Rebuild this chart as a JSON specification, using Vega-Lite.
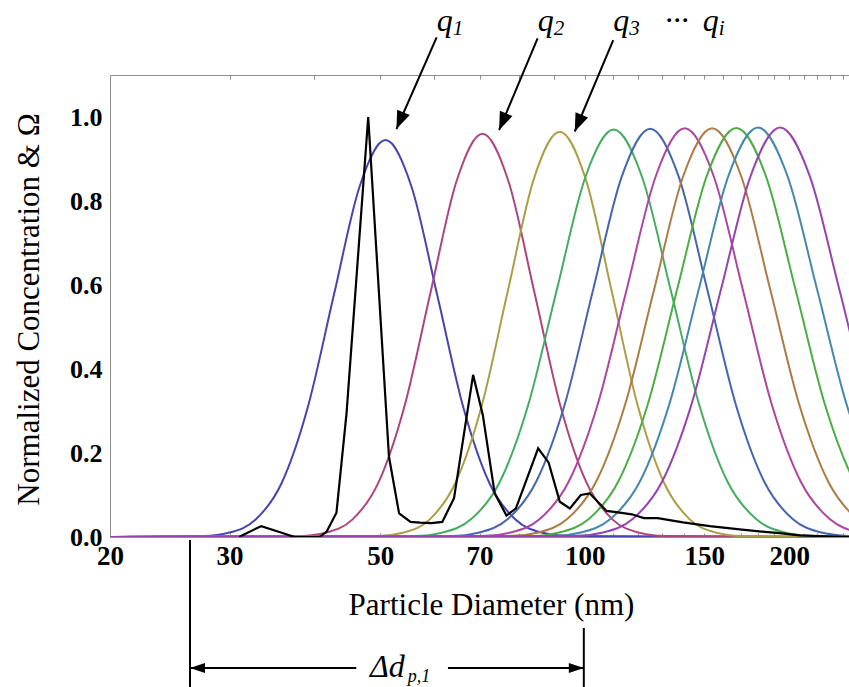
{
  "$schema": "https://vega.github.io/schema/vega-lite/v6.json",
  "width": 739,
  "height": 462,
  "autosize": "none",
  "padding": {"left": 110, "top": 75, "right": 0, "bottom": 150},
  "background": "white",
  "config": {"view": {"stroke": null}, "font": "Liberation Serif"},
  "datasets": {
    "curves": [
      {"c":"q01","d":20,"v":0},{"c":"q01","d":27.47,"v":0.0021},{"c":"q01","d":30.0,"v":0.0105},{"c":"q01","d":32.77,"v":0.0415},{"c":"q01","d":35.78,"v":0.128},{"c":"q01","d":39.08,"v":0.307},{"c":"q01","d":42.68,"v":0.573},{"c":"q01","d":46.61,"v":0.834},{"c":"q01","d":50.9,"v":0.945},{"c":"q01","d":55.59,"v":0.834},{"c":"q01","d":60.71,"v":0.573},{"c":"q01","d":66.3,"v":0.307},{"c":"q01","d":72.41,"v":0.128},{"c":"q01","d":79.08,"v":0.0415},{"c":"q01","d":86.36,"v":0.0105},{"c":"q01","d":94.31,"v":0.0021},{"c":"q01","d":245,"v":0},
      {"c":"q02","d":20,"v":0},{"c":"q02","d":38.17,"v":0.0021},{"c":"q02","d":41.68,"v":0.0107},{"c":"q02","d":45.52,"v":0.042},{"c":"q02","d":49.71,"v":0.13},{"c":"q02","d":54.29,"v":0.312},{"c":"q02","d":59.29,"v":0.582},{"c":"q02","d":64.75,"v":0.847},{"c":"q02","d":70.71,"v":0.96},{"c":"q02","d":77.22,"v":0.847},{"c":"q02","d":84.33,"v":0.582},{"c":"q02","d":92.1,"v":0.312},{"c":"q02","d":100.58,"v":0.13},{"c":"q02","d":109.85,"v":0.042},{"c":"q02","d":119.96,"v":0.0107},{"c":"q02","d":131.01,"v":0.0021},{"c":"q02","d":245,"v":0},
      {"c":"q03","d":20,"v":0},{"c":"q03","d":49.6,"v":0.0021},{"c":"q03","d":54.16,"v":0.0107},{"c":"q03","d":59.15,"v":0.042},{"c":"q03","d":64.6,"v":0.131},{"c":"q03","d":70.55,"v":0.313},{"c":"q03","d":77.04,"v":0.585},{"c":"q03","d":84.14,"v":0.852},{"c":"q03","d":91.89,"v":0.965},{"c":"q03","d":100.35,"v":0.852},{"c":"q03","d":109.6,"v":0.585},{"c":"q03","d":119.69,"v":0.313},{"c":"q03","d":130.71,"v":0.131},{"c":"q03","d":142.75,"v":0.042},{"c":"q03","d":155.9,"v":0.0107},{"c":"q03","d":170.26,"v":0.0021},{"c":"q03","d":245,"v":0},
      {"c":"q04","d":20,"v":0},{"c":"q04","d":56.12,"v":0.0021},{"c":"q04","d":61.81,"v":0.0108},{"c":"q04","d":68.08,"v":0.0426},{"c":"q04","d":74.98,"v":0.131},{"c":"q04","d":82.59,"v":0.315},{"c":"q04","d":90.96,"v":0.588},{"c":"q04","d":100.18,"v":0.856},{"c":"q04","d":110.34,"v":0.97},{"c":"q04","d":121.53,"v":0.856},{"c":"q04","d":133.85,"v":0.588},{"c":"q04","d":147.42,"v":0.315},{"c":"q04","d":162.37,"v":0.131},{"c":"q04","d":178.84,"v":0.0426},{"c":"q04","d":196.97,"v":0.0108},{"c":"q04","d":216.94,"v":0.0021},{"c":"q04","d":245,"v":0},
      {"c":"q05","d":20,"v":0},{"c":"q05","d":63.52,"v":0.0021},{"c":"q05","d":69.96,"v":0.0108},{"c":"q05","d":77.05,"v":0.0427},{"c":"q05","d":84.86,"v":0.132},{"c":"q05","d":93.47,"v":0.316},{"c":"q05","d":102.94,"v":0.59},{"c":"q05","d":113.38,"v":0.858},{"c":"q05","d":124.88,"v":0.972},{"c":"q05","d":137.54,"v":0.858},{"c":"q05","d":151.49,"v":0.59},{"c":"q05","d":166.85,"v":0.316},{"c":"q05","d":183.77,"v":0.132},{"c":"q05","d":202.4,"v":0.0427},{"c":"q05","d":222.93,"v":0.0108},{"c":"q05","d":245.53,"v":0.0021},
      {"c":"q06","d":20,"v":0},{"c":"q06","d":70.54,"v":0.0021},{"c":"q06","d":77.83,"v":0.0108},{"c":"q06","d":85.87,"v":0.0427},{"c":"q06","d":94.74,"v":0.132},{"c":"q06","d":104.52,"v":0.316},{"c":"q06","d":115.32,"v":0.59},{"c":"q06","d":127.23,"v":0.859},{"c":"q06","d":140.37,"v":0.973},{"c":"q06","d":154.87,"v":0.859},{"c":"q06","d":170.87,"v":0.59},{"c":"q06","d":188.52,"v":0.316},{"c":"q06","d":207.99,"v":0.132},{"c":"q06","d":229.48,"v":0.0427},{"c":"q06","d":253.18,"v":0.0108},
      {"c":"q07","d":20,"v":0},{"c":"q07","d":77.42,"v":0.0021},{"c":"q07","d":85.42,"v":0.0108},{"c":"q07","d":94.24,"v":0.0427},{"c":"q07","d":103.98,"v":0.132},{"c":"q07","d":114.72,"v":0.316},{"c":"q07","d":126.57,"v":0.59},{"c":"q07","d":139.64,"v":0.859},{"c":"q07","d":154.07,"v":0.973},{"c":"q07","d":169.99,"v":0.859},{"c":"q07","d":187.55,"v":0.59},{"c":"q07","d":206.92,"v":0.316},{"c":"q07","d":228.3,"v":0.132},{"c":"q07","d":251.88,"v":0.0427},{"c":"q07","d":277.9,"v":0.0108},
      {"c":"q08","d":20,"v":0},{"c":"q08","d":83.01,"v":0.0021},{"c":"q08","d":91.75,"v":0.0108},{"c":"q08","d":101.4,"v":0.0428},{"c":"q08","d":112.06,"v":0.132},{"c":"q08","d":123.85,"v":0.316},{"c":"q08","d":136.88,"v":0.591},{"c":"q08","d":151.28,"v":0.86},{"c":"q08","d":167.2,"v":0.974},{"c":"q08","d":184.79,"v":0.86},{"c":"q08","d":204.23,"v":0.591},{"c":"q08","d":225.72,"v":0.316},{"c":"q08","d":249.47,"v":0.132},{"c":"q08","d":275.7,"v":0.0428},
      {"c":"q09","d":20,"v":0},{"c":"q09","d":89.32,"v":0.0021},{"c":"q09","d":98.72,"v":0.0108},{"c":"q09","d":109.1,"v":0.0428},{"c":"q09","d":120.58,"v":0.132},{"c":"q09","d":133.27,"v":0.317},{"c":"q09","d":147.29,"v":0.591},{"c":"q09","d":162.78,"v":0.86},{"c":"q09","d":179.91,"v":0.975},{"c":"q09","d":198.84,"v":0.86},{"c":"q09","d":219.76,"v":0.591},{"c":"q09","d":242.88,"v":0.317},{"c":"q09","d":268.4,"v":0.132},
      {"c":"q10","d":20,"v":0},{"c":"q10","d":96.32,"v":0.0021},{"c":"q10","d":106.45,"v":0.0108},{"c":"q10","d":117.65,"v":0.0428},{"c":"q10","d":130.02,"v":0.132},{"c":"q10","d":143.7,"v":0.317},{"c":"q10","d":158.82,"v":0.591},{"c":"q10","d":175.53,"v":0.86},{"c":"q10","d":194.0,"v":0.975},{"c":"q10","d":214.41,"v":0.86},{"c":"q10","d":236.97,"v":0.591},{"c":"q10","d":261.9,"v":0.317},{"c":"q10","d":289.5,"v":0.132}
    ],
    "measured": [
      {"d":31.0,"v":0},{"d":31.4,"v":0.005},{"d":33.4,"v":0.026},{"d":35.8,"v":0.01},{"d":37.4,"v":0},{"d":40.7,"v":0},{"d":41.7,"v":0.013},{"d":43.1,"v":0.058},{"d":44.6,"v":0.295},{"d":48.0,"v":1.0},{"d":51.5,"v":0.191},{"d":53.3,"v":0.056},{"d":55.4,"v":0.036},{"d":57.2,"v":0.034},{"d":59.5,"v":0.033},{"d":61.7,"v":0.036},{"d":64.2,"v":0.092},{"d":68.5,"v":0.386},{"d":70.8,"v":0.29},{"d":73.7,"v":0.104},{"d":76.7,"v":0.051},{"d":79.2,"v":0.068},{"d":85.4,"v":0.211},{"d":88.5,"v":0.177},{"d":91.9,"v":0.084},{"d":95.1,"v":0.068},{"d":98.7,"v":0.1},{"d":101.7,"v":0.104},{"d":107.7,"v":0.062},{"d":112.6,"v":0.058},{"d":117.3,"v":0.054},{"d":122.2,"v":0.045},{"d":128.1,"v":0.045},{"d":139.6,"v":0.035},{"d":152.8,"v":0.026},{"d":169.1,"v":0.018},{"d":182.2,"v":0.013},{"d":193.6,"v":0.009},{"d":207.2,"v":0.004},{"d":221.7,"v":0.002},{"d":245,"v":0}
    ],
    "qarrows": [
      {"x":60.53,"x2":52.82,"y":1.1898,"y2":0.9714},
      {"x":85.24,"x2":74.81,"y":1.1874,"y2":0.969},
      {"x":110.16,"x2":96.69,"y":1.1833,"y2":0.9655}
    ],
    "qheads": [
      {"x":52.82,"y":0.9714},{"x":74.81,"y":0.969},{"x":96.69,"y":0.9655}
    ],
    "qletters": [
      {"t":"q","x":60.57,"y":1.2048},{"t":"q","x":85.3,"y":1.2048},{"t":"q","x":110.16,"y":1.2048},{"t":"···","x":131.16,"y":1.2048},{"t":"q","x":149.2,"y":1.2048}
    ],
    "qsubs": [
      {"t":"1","x":63.95,"y":1.195},{"t":"2","x":90.06,"y":1.195},{"t":"3","x":116.31,"y":1.195},{"t":"i","x":157.5,"y":1.195}
    ],
    "drules": [
      {"x":26.23,"x2":26.23,"y":-0.0071,"y2":-0.357},
      {"x":99.7,"x2":99.7,"y":-0.2167,"y2":-0.357},
      {"x":26.23,"x2":46.1,"y":-0.3119,"y2":-0.3119},
      {"x":62.9,"x2":99.7,"y":-0.3119,"y2":-0.3119}
    ],
    "dleft": [{"x":26.23,"y":-0.3119}],
    "dright": [{"x":99.7,"y":-0.3119}],
    "dtext": [{"t":"Δd","x":48.28,"y":-0.3333}],
    "dsub": [{"t":"p,1","x":54.9,"y":-0.3452}]
  },
  "layer": [
    {
      "data": {"name": "curves"},
      "mark": {"type": "line", "interpolate": "monotone", "strokeWidth": 2, "clip": true},
      "encoding": {
        "x": {"field": "d", "type": "quantitative",
          "scale": {"type": "log", "domain": [20, 245], "nice": false},
          "axis": {"orient": "bottom", "values": [20,30,40,50,60,70,80,90,100,110,120,130,140,150,160,170,180,190,200,210,220,230,240],
            "labelExpr": "indexof([20,30,50,70,100,150,200], datum.value) >= 0 ? datum.label : ''",
            "labelFlush": false, "labelOverlap": false, "grid": false,
            "tickSize": -4, "tickColor": "#8c8c8c", "domainColor": "#8c8c8c",
            "labelFont": "Liberation Serif", "labelFontSize": 27, "labelFontWeight": "bold", "labelColor": "black", "labelPadding": 10,
            "title": "Particle Diameter (nm)", "titleFont": "Liberation Serif", "titleFontSize": 31, "titleFontWeight": "normal", "titleColor": "black",
            "titleX": 381, "titleY": 77, "titleBaseline": "alphabetic"}},
        "y": {"field": "v", "type": "quantitative",
          "scale": {"domain": [0, 1.1], "nice": false},
          "axis": {"orient": "left", "values": [0, 0.2, 0.4, 0.6, 0.8, 1.0], "format": ".1f", "grid": false, "ticks": false,
            "domainColor": "#8c8c8c", "labelFont": "Liberation Serif", "labelFontSize": 26, "labelFontWeight": "bold", "labelColor": "black", "labelPadding": 8,
            "title": "Normalized Concentration & Ω", "titleFont": "Liberation Serif", "titleFontSize": 31, "titleFontWeight": "normal", "titleColor": "black",
            "titleX": -72, "titleY": 234, "titleBaseline": "alphabetic"}},
        "color": {"field": "c", "type": "nominal",
          "scale": {"domain": ["q01","q02","q03","q04","q05","q06","q07","q08","q09","q10"],
            "range": ["#4745AD","#AD4580","#AD9E45","#45AD61","#4566AD","#AD45A2","#AD7B45","#4CAD45","#4589AD","#9545AD"]},
          "legend": null}
      }
    },
    {
      "data": {"name": "measured"},
      "mark": {"type": "line", "color": "black", "strokeWidth": 2.2, "clip": true},
      "encoding": {
        "x": {"field": "d", "type": "quantitative", "scale": {"type": "log", "domain": [20, 245], "nice": false},
          "axis": {"orient": "top", "values": [30,40,50,60,70,80,90,100,110,120,130,140,150,160,170,180,190,200,210,220,230,240],
            "labels": false, "grid": false, "tickSize": -4, "tickColor": "#8c8c8c", "domainColor": "#8c8c8c", "title": null}},
        "y": {"field": "v", "type": "quantitative", "scale": {"domain": [0, 1.1], "nice": false}, "axis": null}
      }
    },
    {
      "data": {"name": "qarrows"},
      "mark": {"type": "rule", "color": "black", "strokeWidth": 2},
      "encoding": {
        "x": {"field": "x", "type": "quantitative", "scale": {"type": "log", "domain": [20, 245], "nice": false}, "axis": null},
        "x2": {"field": "x2"},
        "y": {"field": "y", "type": "quantitative", "scale": {"domain": [0, 1.1], "nice": false}, "axis": null},
        "y2": {"field": "y2"}
      }
    },
    {
      "data": {"name": "qheads"},
      "mark": {"type": "point", "filled": true, "color": "black", "opacity": 1, "shape": "M0,0L-0.38,-1L0.38,-1Z", "size": 1296, "angle": 23},
      "encoding": {
        "x": {"field": "x", "type": "quantitative", "scale": {"type": "log", "domain": [20, 245], "nice": false}, "axis": null},
        "y": {"field": "y", "type": "quantitative", "scale": {"domain": [0, 1.1], "nice": false}, "axis": null}
      }
    },
    {
      "data": {"name": "qletters"},
      "mark": {"type": "text", "font": "Liberation Serif", "fontStyle": "italic", "fontSize": 32, "align": "left", "baseline": "alphabetic", "color": "black"},
      "encoding": {
        "x": {"field": "x", "type": "quantitative", "scale": {"type": "log", "domain": [20, 245], "nice": false}, "axis": null},
        "y": {"field": "y", "type": "quantitative", "scale": {"domain": [0, 1.1], "nice": false}, "axis": null},
        "text": {"field": "t"}
      }
    },
    {
      "data": {"name": "qsubs"},
      "mark": {"type": "text", "font": "Liberation Serif", "fontStyle": "italic", "fontSize": 21, "align": "left", "baseline": "alphabetic", "color": "black"},
      "encoding": {
        "x": {"field": "x", "type": "quantitative", "scale": {"type": "log", "domain": [20, 245], "nice": false}, "axis": null},
        "y": {"field": "y", "type": "quantitative", "scale": {"domain": [0, 1.1], "nice": false}, "axis": null},
        "text": {"field": "t"}
      }
    },
    {
      "data": {"name": "drules"},
      "mark": {"type": "rule", "color": "black", "strokeWidth": 2},
      "encoding": {
        "x": {"field": "x", "type": "quantitative", "scale": {"type": "log", "domain": [20, 245], "nice": false}, "axis": null},
        "x2": {"field": "x2"},
        "y": {"field": "y", "type": "quantitative", "scale": {"domain": [0, 1.1], "nice": false}, "axis": null},
        "y2": {"field": "y2"}
      }
    },
    {
      "data": {"name": "dleft"},
      "mark": {"type": "point", "filled": true, "color": "black", "opacity": 1, "shape": "M0,0L-0.33,-1L0.33,-1Z", "size": 900, "angle": 90},
      "encoding": {
        "x": {"field": "x", "type": "quantitative", "scale": {"type": "log", "domain": [20, 245], "nice": false}, "axis": null},
        "y": {"field": "y", "type": "quantitative", "scale": {"domain": [0, 1.1], "nice": false}, "axis": null}
      }
    },
    {
      "data": {"name": "dright"},
      "mark": {"type": "point", "filled": true, "color": "black", "opacity": 1, "shape": "M0,0L-0.33,-1L0.33,-1Z", "size": 900, "angle": 270},
      "encoding": {
        "x": {"field": "x", "type": "quantitative", "scale": {"type": "log", "domain": [20, 245], "nice": false}, "axis": null},
        "y": {"field": "y", "type": "quantitative", "scale": {"domain": [0, 1.1], "nice": false}, "axis": null}
      }
    },
    {
      "data": {"name": "dtext"},
      "mark": {"type": "text", "font": "Liberation Serif", "fontStyle": "italic", "fontSize": 32, "align": "left", "baseline": "alphabetic", "color": "black"},
      "encoding": {
        "x": {"field": "x", "type": "quantitative", "scale": {"type": "log", "domain": [20, 245], "nice": false}, "axis": null},
        "y": {"field": "y", "type": "quantitative", "scale": {"domain": [0, 1.1], "nice": false}, "axis": null},
        "text": {"field": "t"}
      }
    },
    {
      "data": {"name": "dsub"},
      "mark": {"type": "text", "font": "Liberation Serif", "fontStyle": "italic", "fontSize": 18, "align": "left", "baseline": "alphabetic", "color": "black"},
      "encoding": {
        "x": {"field": "x", "type": "quantitative", "scale": {"type": "log", "domain": [20, 245], "nice": false}, "axis": null},
        "y": {"field": "y", "type": "quantitative", "scale": {"domain": [0, 1.1], "nice": false}, "axis": null},
        "text": {"field": "t"}
      }
    }
  ],
  "resolve": {"axis": {"x": "independent", "y": "independent"}}
}
